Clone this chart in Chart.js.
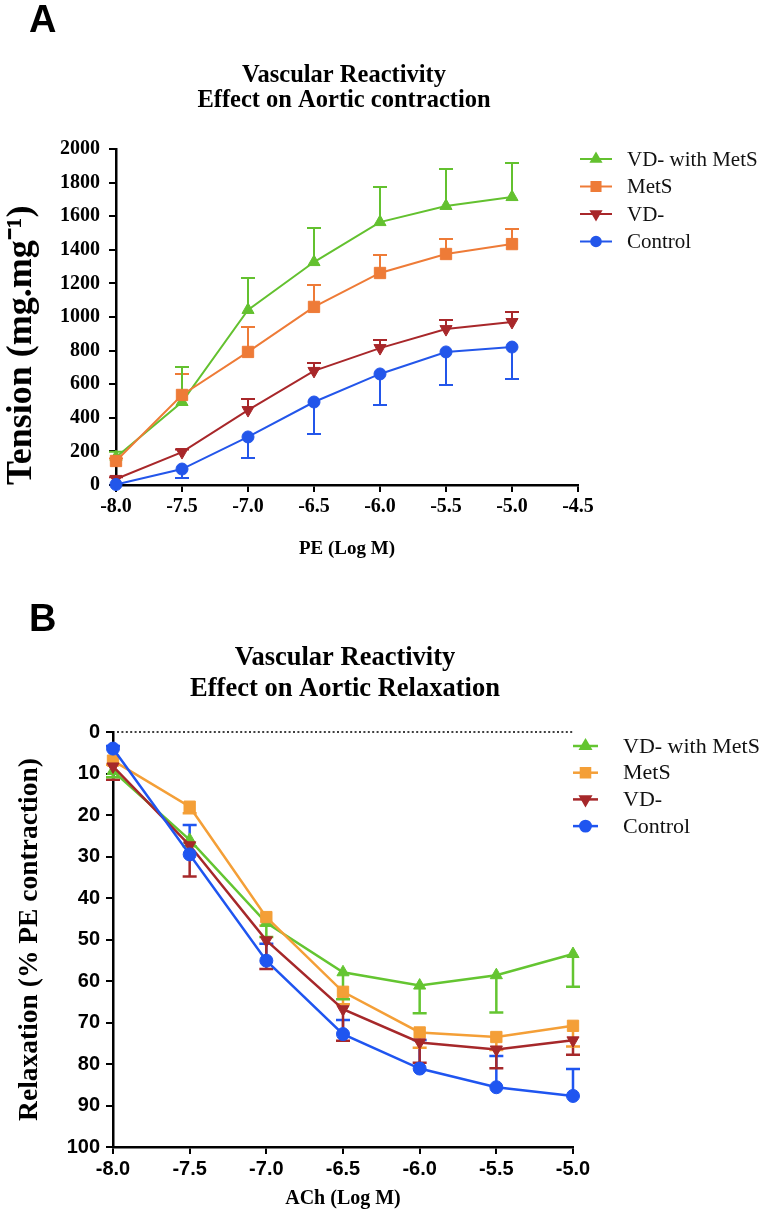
<!DOCTYPE html>
<html><head><meta charset="utf-8">
<script src="https://cdn.jsdelivr.net/npm/chart.js@4.4.1/dist/chart.umd.min.js"></script>
<style>
html,body{margin:0;padding:0;background:#fff;}
#wrap{position:relative;width:768px;height:1223px;overflow:hidden;}
canvas{position:absolute;left:0;display:block;}
#cA{top:0;}
#cB{top:600px;}
</style></head><body>
<div id="wrap">
<canvas id="cA" width="768" height="600" style="width:768px;height:600px"></canvas>
<canvas id="cB" width="768" height="623" style="width:768px;height:623px"></canvas>
</div>
<script>
// ---------- data ----------
const doseLog = [-8.0, -7.5, -7.0, -6.5, -6.0, -5.5, -5.0];
const seriesNames = ['VD- with MetS', 'MetS', 'VD-', 'Control'];

// Panel A: contraction tension (mg.mg-1), mean and SEM
const contractVDMetS    = [165, 494, 1042, 1327, 1565, 1661, 1714];
const contractVDMetSErr = [33, 208, 190, 203, 209, 220, 203];
const contractMetS      = [143, 536, 792, 1060, 1262, 1375, 1434];
const contractMetSErr   = [15, 125, 148, 130, 107, 89, 90];
const contractVD        = [36, 196, 446, 679, 815, 928, 970];
const contractVDErr     = [10, 15, 66, 47, 48, 54, 60];
const contractControl   = [3, 95, 286, 494, 661, 792, 821];
const contractControlErr= [0, 53, 125, 190, 185, 197, 190];

// Panel B: relaxation (% PE contraction), mean and SEM
const relaxVDMetS    = [9.4, 26.0, 46.0, 57.9, 61.1, 58.6, 53.5];
const relaxVDMetSErr = [1.5, 1.5, 3.4, 6.5, 6.7, 9.0, 7.9];
const relaxMetS      = [6.9, 18.0, 44.6, 62.6, 72.4, 73.5, 70.8];
const relaxMetSErr   = [1.0, 1.6, 2.0, 3.0, 3.7, 3.1, 5.0];
const relaxVD        = [8.3, 27.3, 50.2, 66.8, 74.8, 76.5, 74.3];
const relaxVDErr     = [3.2, 7.5, 6.9, 7.6, 4.9, 4.5, 3.5];
const relaxControl   = [4.0, 29.5, 55.1, 72.8, 81.1, 85.6, 87.7];
const relaxControlErr= [0.6, 7.1, 4.1, 3.4, 6.9, 7.5, 6.5];

// tick labels
const xTicksA = [-8.0, -7.5, -7.0, -6.5, -6.0, -5.5, -5.0, -4.5];
const yTicksA = [0, 200, 400, 600, 800, 1000, 1200, 1400, 1600, 1800, 2000];
const xTicksB = [-8.0, -7.5, -7.0, -6.5, -6.0, -5.5, -5.0];
const yTicksB = [0, 10, 20, 30, 40, 50, 60, 70, 80, 90, 100];

// ---------- helpers ----------
function pts(arr) { return doseLog.map((x, i) => ({ x: x, y: arr[i] })); }

function drawMarker(ctx, style, x, y, r, rot) {
  if (Chart.helpers && Chart.helpers.drawPoint) {
    Chart.helpers.drawPoint(ctx, { pointStyle: style, radius: r, rotation: rot || 0, borderWidth: 1 }, x, y);
    return;
  }
  ctx.beginPath();
  ctx.arc(x, y, r, 0, Math.PI * 2);
  ctx.fill();
}

const errorBars = {
  id: 'errorBars',
  beforeDatasetsDraw(chart, args, o) {
    const ctx = chart.ctx, ys = chart.scales.y;
    chart.data.datasets.forEach((ds, di) => {
      const meta = chart.getDatasetMeta(di);
      if (meta.hidden) return;
      ctx.save();
      ctx.strokeStyle = ds.borderColor;
      ctx.lineWidth = o.width;
      meta.data.forEach((p, i) => {
        const e = ds.errors[i];
        if (!e) return;
        const y2 = ys.getPixelForValue(ds.data[i].y + ds.errDir * e);
        ctx.beginPath();
        ctx.moveTo(p.x, p.y); ctx.lineTo(p.x, y2);
        ctx.moveTo(p.x - o.cap, y2); ctx.lineTo(p.x + o.cap, y2);
        ctx.stroke();
      });
      ctx.restore();
    });
  }
};

const zeroLine = {
  id: 'zeroLine',
  beforeDatasetsDraw(chart, args, o) {
    if (!o.show) return;
    const ctx = chart.ctx, ys = chart.scales.y, a = chart.chartArea;
    const y = ys.getPixelForValue(0);
    ctx.save();
    ctx.strokeStyle = '#000';
    ctx.lineWidth = 1.6;
    ctx.setLineDash([2, 2.4]);
    ctx.beginPath(); ctx.moveTo(a.left + 4, y); ctx.lineTo(a.right, y); ctx.stroke();
    ctx.restore();
  }
};

const panelDecor = {
  id: 'panelDecor',
  afterDraw(chart, args, o) {
    const ctx = chart.ctx;
    ctx.save();
    ctx.fillStyle = '#000';
    ctx.textBaseline = 'middle';
    ctx.textAlign = 'left';
    ctx.font = o.letterFont;
    ctx.fillText(o.letter, o.letterX, o.letterY);
    ctx.textAlign = 'center';
    ctx.font = o.titleFont;
    o.title.forEach((t, i) => ctx.fillText(t, o.titleX, o.titleY + i * o.titleGap));
    o.legendOrder.forEach((di, row) => {
      const ds = chart.data.datasets[di];
      const y = o.legendY + row * o.legendGap;
      ctx.strokeStyle = ds.borderColor;
      ctx.fillStyle = ds.borderColor;
      ctx.lineWidth = ds.borderWidth;
      ctx.beginPath(); ctx.moveTo(o.legendX, y); ctx.lineTo(o.legendX + o.legendLine, y); ctx.stroke();
      drawMarker(ctx, ds.pointStyle, o.legendX + o.legendLine / 2, y, ds.pointRadius * 0.8, ds.pointRotation);
      ctx.fillStyle = '#111';
      ctx.textAlign = 'left';
      ctx.font = o.legendFont;
      ctx.fillText(ds.label, o.legendTextX, y + 1);
    });
    ctx.restore();
  }
};

function makeDatasets(cols, vals, errs, dirs, lw, radii) {
  const styles = ['triangle', 'rect', 'triangle', 'circle'];
  const rots = [0, 0, 180, 0];
  // draw order: Control on top
  const order = [3, 2, 1, 0];
  return order.map(k => ({
    label: seriesNames[k],
    data: pts(vals[k]),
    errors: errs[k],
    errDir: dirs[k],
    borderColor: cols[k],
    backgroundColor: cols[k],
    pointBackgroundColor: cols[k],
    pointBorderColor: cols[k],
    borderWidth: lw,
    pointBorderWidth: 1,
    pointStyle: styles[k],
    pointRotation: rots[k],
    pointRadius: radii[k],
    pointHoverRadius: radii[k],
    tension: 0,
    fill: false,
    clip: false
  }));
}

function tickFmt(v) { return Number(v).toFixed(1); }
function plainFmt(v) { return String(v); }

// ---------- Panel A ----------
const colsA = ['#63c12f', '#ee7b37', '#a8272a', '#2356ea'];
const serifBold = (s) => ({ family: '"Liberation Serif", "Times New Roman", serif', size: s, weight: 'bold' });
const sansBold = (s) => ({ family: '"Liberation Sans", Arial, sans-serif', size: s, weight: 'bold' });

new Chart(document.getElementById('cA'), {
  type: 'line',
  data: {
    datasets: makeDatasets(colsA,
      [contractVDMetS, contractMetS, contractVD, contractControl],
      [contractVDMetSErr, contractMetSErr, contractVDErr, contractControlErr],
      [1, 1, 1, -1], 2, [7, 8, 7, 6])
  },
  options: {
    responsive: false,
    animation: false,
    devicePixelRatio: 1,
    layout: { padding: { left: 0, right: 190, top: 149, bottom: 0 } },
    plugins: {
      legend: { display: false },
      tooltip: { enabled: false },
      errorBars: { width: 2, cap: 7 },
      zeroLine: { show: false },
      panelDecor: {
        letter: 'A', letterX: 29, letterY: 22, letterFont: 'bold 38px "Liberation Sans", Arial, sans-serif',
        title: ['Vascular Reactivity', 'Effect on Aortic contraction'],
        titleX: 344, titleY: 76, titleGap: 25, titleFont: 'bold 24.5px "Liberation Serif", "Times New Roman", serif',
        legendOrder: [3, 2, 1, 0], legendX: 580, legendLine: 32, legendTextX: 627, legendY: 159, legendGap: 27.5,
        legendFont: '21px "Liberation Serif", "Times New Roman", serif'
      }
    },
    scales: {
      x: {
        type: 'linear', min: -8, max: -4.5,
        afterFit: s => { s.height = 115; },
        afterBuildTicks: s => { s.ticks = xTicksA.map(v => ({ value: v })); },
        grid: { display: true, drawOnChartArea: false, drawTicks: true, tickLength: 7, color: '#000', lineWidth: 2 },
        border: { display: true, color: '#000', width: 2.5 },
        ticks: { color: '#000', font: serifBold(20), padding: 3, maxRotation: 0, autoSkip: false, callback: tickFmt },
        title: { display: true, text: 'PE (Log M)', color: '#000', font: serifBold(19), padding: { top: 0, bottom: 40 } }
      },
      y: {
        type: 'linear', min: 0, max: 2000,
        afterFit: s => { s.width = 116; },
        afterBuildTicks: s => { s.ticks = yTicksA.map(v => ({ value: v })); },
        grid: { display: true, drawOnChartArea: false, drawTicks: true, tickLength: 7, color: '#000', lineWidth: 2 },
        border: { display: true, color: '#000', width: 2.5 },
        ticks: { color: '#000', font: serifBold(20), padding: 9, autoSkip: false, callback: plainFmt },
        title: { display: true, text: 'Tension (mg.mg\u207B\u00B9)', align: 'start', color: '#000', font: serifBold(36), padding: { top: 0, bottom: 0 } }
      }
    }
  },
  plugins: [errorBars, zeroLine, panelDecor]
});

// ---------- Panel B ----------
const colsB = ['#64c531', '#f49f37', '#a6282a', '#1f55f0'];

new Chart(document.getElementById('cB'), {
  type: 'line',
  data: {
    datasets: makeDatasets(colsB,
      [relaxVDMetS, relaxMetS, relaxVD, relaxControl],
      [relaxVDMetSErr, relaxMetSErr, relaxVDErr, relaxControlErr],
      [1, 1, 1, -1], 2.5, [7, 8, 7, 6.5])
  },
  options: {
    responsive: false,
    animation: false,
    devicePixelRatio: 1,
    layout: { padding: { left: 0, right: 195, top: 132, bottom: 0 } },
    plugins: {
      legend: { display: false },
      tooltip: { enabled: false },
      errorBars: { width: 2.5, cap: 7 },
      zeroLine: { show: true },
      panelDecor: {
        letter: 'B', letterX: 29, letterY: 21, letterFont: 'bold 38px "Liberation Sans", Arial, sans-serif',
        title: ['Vascular Reactivity', 'Effect on Aortic Relaxation'],
        titleX: 345, titleY: 58, titleGap: 31, titleFont: 'bold 26.5px "Liberation Serif", "Times New Roman", serif',
        legendOrder: [3, 2, 1, 0], legendX: 573, legendLine: 25, legendTextX: 623, legendY: 146, legendGap: 26.7,
        legendFont: '22px "Liberation Serif", "Times New Roman", serif'
      }
    },
    scales: {
      x: {
        type: 'linear', min: -8, max: -5,
        afterFit: s => { s.height = 76; },
        afterBuildTicks: s => { s.ticks = xTicksB.map(v => ({ value: v })); },
        grid: { display: true, drawOnChartArea: false, drawTicks: true, tickLength: 7, color: '#000', lineWidth: 2 },
        border: { display: true, color: '#000', width: 2.5 },
        ticks: { color: '#000', font: sansBold(20), padding: 3, maxRotation: 0, autoSkip: false, callback: tickFmt },
        title: { display: true, text: 'ACh (Log M)', color: '#000', font: serifBold(20), padding: { top: 0, bottom: 12 } }
      },
      y: {
        type: 'linear', min: 0, max: 100, reverse: true,
        afterFit: s => { s.width = 113; },
        afterBuildTicks: s => { s.ticks = yTicksB.map(v => ({ value: v })); },
        grid: { display: true, drawOnChartArea: false, drawTicks: true, tickLength: 7, color: '#000', lineWidth: 2 },
        border: { display: true, color: '#000', width: 2.5 },
        ticks: { color: '#000', font: sansBold(20), padding: 6, autoSkip: false, callback: plainFmt },
        title: { display: true, text: 'Relaxation (% PE contraction)', color: '#000', font: serifBold(27.5), padding: { top: 13, bottom: 0 } }
      }
    }
  },
  plugins: [errorBars, zeroLine, panelDecor]
});
</script>
</body></html>
